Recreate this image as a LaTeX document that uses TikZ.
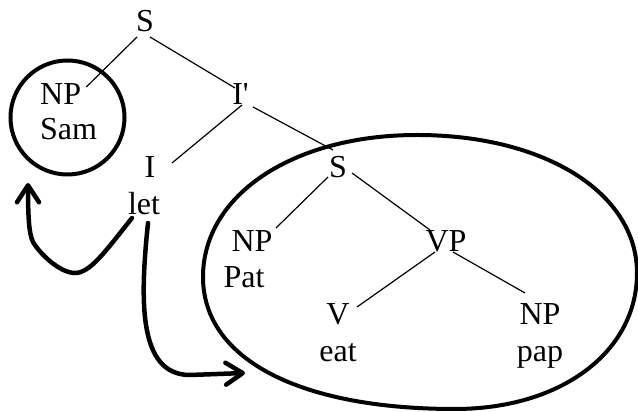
\documentclass[tikz,border=0pt]{standalone}
\usepackage{fontspec}
\newfontfamily\treefont{Liberation Serif}
\usetikzlibrary{calc,arrows.meta}
\begin{document}
\begin{tikzpicture}[x=1pt,y=1pt,
  lbl/.style={inner sep=0pt, anchor=base, font=\treefont\fontsize{32}{38}\selectfont},
  branch/.style={line width=1.2pt},
  ring/.style={line width=4pt},
  move/.style={line width=4.5pt, line cap=round, -{Straight Barb[length=17pt,width=22pt,round]}}]
\useasboundingbox (0,0) rectangle (638,412);
% labels
\node[lbl] (s1) at (145,380) {S};
\node[lbl, anchor=base west] (np1) at (40,307) {NP};
\node[lbl, anchor=base west] (sam) at (40,272) {Sam};
\node[lbl] (ib) at (240.5,307) {I'};
\node[lbl] (i) at (150,234) {I};
\node[lbl] (let) at (144,197) {let};
\node[lbl] (s2) at (338,234) {S};
\node[lbl] (np2) at (252,160) {NP};
\node[lbl] (pat) at (244,124) {Pat};
\node[lbl] (vp) at (446,160) {VP};
\node[lbl] (v) at (338,87) {V};
\node[lbl] (eat) at (338,50) {eat};
\node[lbl] (np3) at (540,87) {NP};
\node[lbl] (pap) at (540,50) {pap};
% branches
\draw[branch] ($(s1.base)+(-8,-5)$) -- ($(np1.base east)+(5,18)$);
\draw[branch] ($(s1.base)+(5,-5)$) -- ($(ib.base)+(-5.5,17)$);
\draw[branch] ($(ib.base)+(1.5,0)$) -- ($(i.base)+(22,15)$);
\draw[branch] ($(ib.base)+(12.5,-2)$) -- ($(s2.base)+(-5,28)$);
\draw[branch] ($(s2.base)+(-10,1)$) -- ($(np2.base)+(24,24)$);
\draw[branch] ($(s2.base)+(14,5)$) -- ($(vp.base)+(-16,22)$);
\draw[branch] ($(vp.base)+(-11,0)$) -- ($(v.base)+(19,18)$);
\draw[branch] ($(vp.base)+(7,0)$) -- ($(np3.base)+(-15,32)$);
% rings
\node[ring, draw, circle, minimum size=114pt, inner sep=0pt, outer sep=0pt] (ringA) at (67.5,294.5) {};
\draw[ring] (417,277) .. controls (545,277) and (637,219) .. (637,139)
  .. controls (637,60) and (561,3) .. (455,3)
  .. controls (299,3) and (203,53) .. (203,135)
  .. controls (203,217) and (293,277) .. (417,277) -- cycle;
% movement arrows
\coordinate (a2end) at (245,39);
\draw[move] ($(let.base)+(-12,-3)$) .. controls (105,160) and (90,139) .. (75,139) .. controls (60,139) and (40,158) .. (33,170) .. controls (29,178) and (28,195) .. ($(ringA.south)+(-39.5,-8.5)$);
\draw[move] ($(let.base)+(4,-8)$) .. controls (140,112) and (138,37) .. (190,37) -- (a2end);
\end{tikzpicture}
\end{document}
